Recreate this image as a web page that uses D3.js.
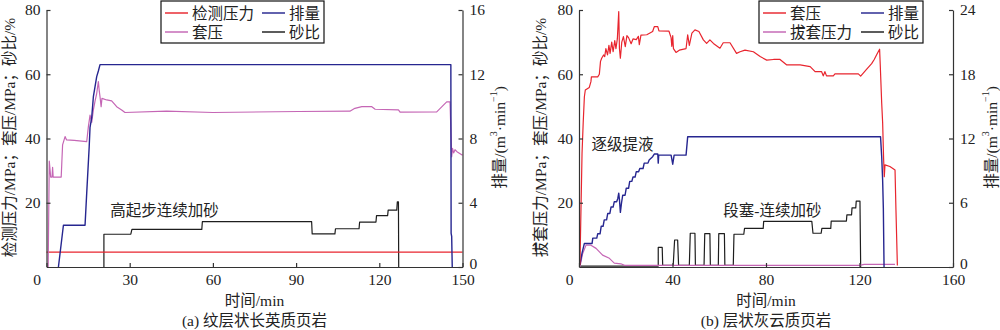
<!DOCTYPE html>
<html><head><meta charset="utf-8">
<script src="https://cdn.jsdelivr.net/npm/d3@7/dist/d3.min.js"></script>
<style>
html,body{margin:0;padding:0;background:#fff;}
svg{display:block;font-family:'Liberation Serif','Noto Sans CJK SC',serif;}
</style></head>
<body>
<svg id="c" width="1000" height="330"></svg>
<script>
// ---------- Panel (a) data: [time(min), value] ----------
const aTimeTicks = [0, 30, 60, 90, 120, 150];
const aLeftTicks = [20, 40, 60, 80];
const aRightTicks = [0, 4, 8, 12, 16];
const aDetectPressure = [[0,4.6],[150,4.6]];
const aCasingPressure = [[0.6,0],[1.0,33],[1.3,30],[1.5,28],[2.0,28],[2.2,31],[2.4,28],[5.3,28],[5.5,32],[5.8,38],[6.7,40.6],[7.2,39.6],[10,39.4],[14.5,39.0],[15.1,43.7],[15.7,47.3],[16.3,45],[16.9,48.9],[17.5,51.6],[18.1,54],[18.7,57.7],[19.0,55],[19.3,53],[19.7,49.9],[20.0,52.5],[21.7,52],[23.5,51.7],[25.3,49.9],[27.1,48.9],[28.3,48.1],[43.3,48.5],[60,48.1],[91,48.4],[109.4,48.5],[111.2,49.4],[113.7,49.9],[117.3,49.9],[118.5,49.1],[126.9,48.9],[127.5,48.2],[140.7,48.3],[144.3,51.4],[145.5,51.4],[146.1,34.3],[146.4,36.9],[146.8,35.5],[147.3,36.5],[148,35.9],[150,34.8]];
const aPumpRate = [[4.3,0],[6.1,2.6],[13.9,2.6],[14.5,4.6],[15.4,7.5],[15.7,8.7],[16.3,9.3],[16.9,10.6],[18.1,11.85],[18.7,12.2],[19.3,12.6],[145.8,12.6],[145.9,2.1],[146.1,1.9],[146.3,0]];
const aSandRatio = [[20.7,0],[20.7,10.2],[30.4,10.2],[30.8,11.7],[56.0,11.7],[56.2,14.1],[95.6,14.1],[95.8,10.3],[104,10.3],[104.2,11.9],[112.7,11.9],[112.9,14.0],[118.8,14.0],[119.0,16.0],[123.0,16.0],[123.2,17.7],[126.3,17.7],[126.5,20.3],[126.9,20.3],[127.0,0]];

// ---------- Panel (b) data ----------
const bTimeTicks = [0, 40, 80, 120, 160];
const bLeftTicks = [20, 40, 60, 80];
const bRightTicks = [0, 6, 12, 18, 24];
const bCasingPressure = [[0.4,0.6],[1.3,35.4],[1.8,45],[2.3,53],[2.7,55.1],[4.4,55.9],[5.1,57.7],[5.3,59.2],[8.0,59.2],[8.7,60],[9.2,64],[9.7,65],[10.5,66],[11,65.5],[11.5,68],[12.2,66],[12.8,69],[13.3,66.5],[14.0,70],[14.6,67],[15.3,70.5],[15.8,68],[16.4,71],[17.0,79.5],[17.3,68],[17.7,65],[18.3,70],[19.0,71.7],[19.8,68.6],[20.5,72],[21.2,71.4],[22.3,69.5],[23.1,71],[24.5,70.8],[25.4,71.8],[25.8,69.2],[26.5,72.2],[29,72.3],[31.5,73.3],[32.2,74.8],[33.7,74.8],[34.2,73.5],[38.5,73.4],[39.4,71.4],[39.7,68.7],[40.1,72],[40.4,68],[41.5,66.8],[42.9,67.5],[45.8,68],[46.5,72.3],[47.2,69],[48.3,72.8],[49.6,73.8],[51.3,73.3],[53.2,70.7],[54.6,69.6],[56.0,70.7],[57.5,69.6],[60.3,68.1],[61.7,69.8],[64.6,69.8],[67.4,66.5],[68.9,67],[71.0,67.5],[74.6,67],[77.5,65.5],[80.3,64.4],[83.2,64.6],[86.0,64.6],[88.9,62.9],[94.6,62.9],[98.9,62.4],[101.0,60.8],[103.8,60.8],[104.5,59.5],[105.2,60.8],[105.9,59.5],[108.8,59.5],[109.5,60.1],[119.5,60.1],[120.5,59.4],[123.0,61.5],[125.2,63.3],[126.3,64.6],[127.5,66.3],[128.6,67.8],[128.9,62.5],[129.5,51],[129.9,45],[130.3,34],[130.6,28.1],[130.9,31.8],[133.0,31.3],[135.2,30.2],[135.6,17.7],[136.2,0.5]];
const bPullPressure = [[0.4,0],[1.5,4],[3.0,6.8],[5.1,6.8],[7.3,5.8],[10.1,3.7],[13.0,2.7],[15.1,1.2],[17.9,1.0],[19.5,0.5],[120,0.5],[122,0.8],[135.2,0.8]];
const bPumpRate = [[0.4,0.2],[1.3,1.3],[2.3,2.2],[5.6,2.2],[5.9,2.7],[7.6,2.7],[8.0,3.1],[9.0,3.1],[9.5,3.8],[10.3,3.8],[10.8,4.4],[11.8,4.4],[12.3,5.0],[13.2,5.0],[13.7,5.6],[14.6,5.6],[15.1,6.1],[16.1,6.1],[16.6,6.4],[17.0,6.9],[17.3,6.3],[17.7,5.1],[18.2,6.0],[18.7,6.7],[19.7,6.7],[20.2,7.35],[21.2,7.35],[21.7,8.0],[22.6,8.0],[23.1,8.4],[24.0,8.4],[24.5,8.9],[25.5,8.9],[26.0,9.2],[27.4,9.2],[27.9,9.7],[29.5,9.7],[30.0,10.0],[31.5,10.3],[32.2,10.55],[33.7,10.55],[33.9,9.7],[34.1,10.45],[39.4,10.45],[40.1,9.6],[40.7,10.45],[45.8,10.45],[46.5,12.17],[129.0,12.17],[129.5,10.3],[129.9,8.1],[130.2,5.5],[130.5,0]];
const bSandRatio = [[0,0.3],[33.9,0.3],[33.9,6.1],[35.6,6.1],[35.8,0.5],[40.3,0.5],[40.9,8.4],[42.2,8.4],[42.6,0.5],[47.2,0.5],[47.6,10.5],[49.6,10.5],[49.8,0.5],[53.5,0.5],[53.8,10.4],[56.0,10.4],[56.2,0.5],[59.6,0.5],[59.8,10.4],[62.2,10.4],[62.4,0.5],[66.0,0.5],[66.3,10.2],[70.5,10.2],[70.8,12.0],[78.8,12.0],[79.0,14.2],[99.6,14.2],[100.1,10.5],[103.6,10.5],[103.9,12.0],[107.7,12.0],[107.9,14.3],[114.4,14.3],[114.6,16.2],[116.6,16.2],[116.8,18.4],[118.4,18.4],[118.6,20.5],[120.2,20.5],[120.5,0]];

const RED = "#e8252e", PINK = "#c566b5", BLUE = "#262690", BLACK = "#1e1e1e", AXIS = "#333";
const FS = 15.5;

const svg = d3.select("#c");

function panel(cfg) {
  const x = d3.scaleLinear().domain(cfg.xDomain).range([cfg.x0, cfg.x1]);
  const yL = d3.scaleLinear().domain([0, 80]).range([267, 10]);
  const yR = d3.scaleLinear().domain(cfg.rDomain).range([267, 10]);
  const g = svg.append("g");

  // series
  const lineL = d3.line().x(d => x(d[0])).y(d => yL(d[1]));
  const lineR = d3.line().x(d => x(d[0])).y(d => yR(d[1]));
  cfg.series.forEach(s => {
    g.append("path").datum(s.data)
      .attr("d", s.right ? lineR : lineL)
      .attr("fill", "none").attr("stroke", s.color)
      .attr("stroke-width", s.w || 1.2).attr("stroke-linejoin", "round");
  });

  // axes
  const ax = g.append("g").attr("transform", `translate(0,267)`)
    .call(d3.axisBottom(x).tickValues(cfg.xTicks).tickSizeInner(-4).tickSizeOuter(0).tickPadding(7));
  ax.selectAll(".tick text").filter(d => d === 0).attr("dx", -10);
  const al = g.append("g").attr("transform", `translate(${cfg.x0},0)`)
    .call(d3.axisLeft(yL).tickValues(cfg.lTicks).tickSizeInner(-4).tickSizeOuter(0).tickPadding(6));
  const ar = g.append("g").attr("transform", `translate(${cfg.x1},0)`)
    .call(d3.axisRight(yR).tickValues(cfg.rTicks).tickSizeInner(-4).tickSizeOuter(0).tickPadding(7));
  [ax, al, ar].forEach(a => {
    a.selectAll("path,line").attr("stroke", AXIS).attr("stroke-width", 1.2);
    a.selectAll("text").attr("font-size", FS).attr("fill", "#222")
      .attr("font-family", "'Liberation Serif',serif");
  });
  ar.selectAll(".tick text").attr("dy", "0.32em");
  ar.selectAll(".tick text").filter(d => d === 0).attr("dy", "0.1em");

  // annotations
  cfg.notes.forEach(n => {
    g.append("text").attr("x", x(n.t)).attr("y", yL(n.v))
      .attr("font-size", FS).attr("fill", "#222").text(n.text);
  });

  // axis titles
  const cx = (cfg.x0 + cfg.x1) / 2;
  g.append("text").attr("x", cx).attr("y", 300).attr("text-anchor", "middle")
    .attr("dominant-baseline", "central").attr("font-size", FS).attr("fill", "#222").text("时间/min");
  g.append("text").attr("x", cx).attr("y", 320).attr("text-anchor", "middle")
    .attr("dominant-baseline", "central").attr("font-size", FS).attr("fill", "#222").text(cfg.caption);
  g.append("text").attr("transform", `translate(${cfg.ltX},137.5) rotate(-90)`)
    .attr("text-anchor", "middle").attr("dominant-baseline", "central")
    .attr("font-size", FS).attr("fill", "#222").text(cfg.leftTitle);
  const rt = g.append("text").attr("transform", `translate(${cfg.rtX},137.5) rotate(-90)`)
    .attr("text-anchor", "middle").attr("dominant-baseline", "central")
    .attr("font-size", FS).attr("fill", "#222");
  rt.append("tspan").text("排量/(m");
  rt.append("tspan").attr("dy", -6).attr("font-size", 10).text("3");
  rt.append("tspan").attr("dy", 6).text("·min");
  rt.append("tspan").attr("dy", -6).attr("font-size", 10).text("−1");
  rt.append("tspan").attr("dy", 6).text(")");

  // legend
  const L = cfg.legend;
  g.append("rect").attr("x", L.x).attr("y", 1).attr("width", L.w).attr("height", 42)
    .attr("fill", "#fff").attr("stroke", "#111").attr("stroke-width", 1.2);
  L.items.forEach(it => {
    g.append("line").attr("x1", it.lx).attr("x2", it.lx + 23).attr("y1", it.y).attr("y2", it.y)
      .attr("stroke", it.color).attr("stroke-width", 1.8).attr("opacity", 0.8);
    g.append("text").attr("x", it.lx + 27).attr("y", it.y).attr("dominant-baseline", "central")
      .attr("font-size", FS).attr("fill", "#222").text(it.label);
  });
}

panel({
  xDomain: [0, 150], x0: 46.5, x1: 462.5, rDomain: [0, 16],
  xTicks: aTimeTicks, lTicks: aLeftTicks, rTicks: aRightTicks,
  series: [
    {data: aSandRatio, color: BLACK},
    {data: aDetectPressure, color: RED},
    {data: aCasingPressure, color: PINK},
    {data: aPumpRate, color: BLUE, right: true, w: 1.4}
  ],
  notes: [{t: 23, v: 16, text: "高起步连续加砂"}],
  caption: "(a) 纹层状长英质页岩",
  leftTitle: "检测压力/MPa；套压/MPa；砂比/%",
  ltX: 9, rtX: 499,
  legend: {x: 161, w: 163, items: [
    {lx: 165, y: 13, color: RED, label: "检测压力"},
    {lx: 262, y: 13, color: BLUE, label: "排量"},
    {lx: 165, y: 32, color: PINK, label: "套压"},
    {lx: 262, y: 32, color: BLACK, label: "砂比"}
  ]}
});

panel({
  xDomain: [0, 160], x0: 579, x1: 953, rDomain: [0, 24],
  xTicks: bTimeTicks, lTicks: bLeftTicks, rTicks: bRightTicks,
  series: [
    {data: bSandRatio, color: BLACK},
    {data: bPullPressure, color: PINK},
    {data: bPumpRate, color: BLUE, right: true, w: 1.4},
    {data: bCasingPressure, color: RED}
  ],
  notes: [{t: 5.4, v: 36.5, text: "逐级提液"}, {t: 61.7, v: 16, text: "段塞-连续加砂"}],
  caption: "(b) 层状灰云质页岩",
  leftTitle: "拔套压力/MPa；套压/MPa；砂比/%",
  ltX: 540, rtX: 991,
  legend: {x: 759, w: 164, items: [
    {lx: 763, y: 13, color: RED, label: "套压"},
    {lx: 861, y: 13, color: BLUE, label: "排量"},
    {lx: 763, y: 32, color: PINK, label: "拔套压力"},
    {lx: 861, y: 32, color: BLACK, label: "砂比"}
  ]}
});
</script>
</body></html>
